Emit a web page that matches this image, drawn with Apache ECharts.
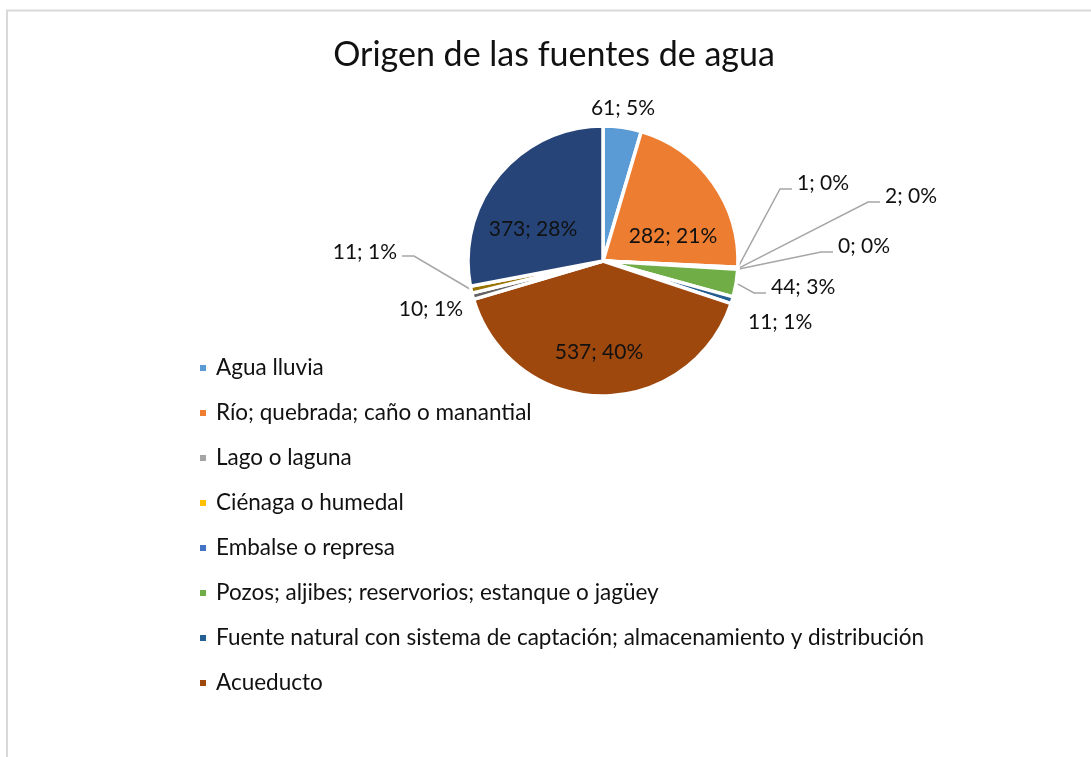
<!DOCTYPE html>
<html lang="es">
<head>
<meta charset="utf-8">
<title>Origen de las fuentes de agua</title>
<script src="https://cdn.jsdelivr.net/npm/echarts@6.0.0/dist/echarts.min.js"></script>
<style>
  html, body { margin: 0; padding: 0; background: #fff; }
  #chart { width: 1091px; height: 757px; }
</style>
</head>
<body>
<div id="chart"></div>
<script>
const categories = [
  'Agua lluvia',
  'Río; quebrada; caño o manantial',
  'Lago o laguna',
  'Ciénaga o humedal',
  'Embalse o represa',
  'Pozos; aljibes; reservorios; estanque o jagüey',
  'Fuente natural con sistema de captación; almacenamiento y distribución',
  'Acueducto'
]
// the legend in the original stops after 8 entries, these three slices have no visible name
const extraCategories = ['Serie 9', 'Serie 10', 'Serie 11']
const values = [61, 282, 1, 2, 0, 44, 11, 537, 10, 11, 373]
const colors = ['#5b9bd5', '#ed7d31', '#a5a5a5', '#ffc000', '#4472c4', '#70ad47', '#255e91', '#9e480e', '#636363', '#997300', '#264478']

// label placement per slice: [x, y, align, inside?, leader line?]
const labelSpots = [
  [623, 108, 'center', false, false],
  [673, 236, 'center', true, false],
  [797, 183, 'left', false, true],
  [885, 196, 'left', false, true],
  [838, 246, 'left', false, true],
  [771, 287, 'left', false, true],
  [748, 322, 'left', false, false],
  [599, 352, 'center', true, false],
  [463, 309, 'right', false, false],
  [397, 252, 'right', false, true],
  [533, 229, 'center', true, false]
]

const total = values.reduce((a, b) => a + b, 0)
const names = categories.concat(extraCategories)

const getOption = () => {
  return {
    animation: false,
    textStyle: { fontFamily: 'Lato' },
    graphic: [{
      type: 'rect',
      silent: true,
      shape: { x: 7, y: 10.5, width: 1300, height: 1000 },
      style: { fill: 'none', stroke: '#d9d9d9', lineWidth: 2 }
    }],
    title: {
      text: 'Origen de las fuentes de agua',
      left: 554,
      top: 37,
      padding: 0,
      textAlign: 'center',
      textStyle: { fontSize: 34, fontWeight: 'normal', color: '#111', fontFamily: 'Lato', lineHeight: 36 }
    },
    legend: {
      orient: 'vertical',
      left: 198,
      top: 356,
      padding: 0,
      itemGap: 21,
      itemWidth: 8,
      itemHeight: 8,
      icon: 'rect',
      data: categories,
      textStyle: { fontSize: 22.5, color: '#111', fontFamily: 'Lato', lineHeight: 24, padding: [0, 0, 0, 4] }
    },
    series: [{
      type: 'pie',
      center: [603, 261],
      radius: 135,
      startAngle: 90,
      clockwise: true,
      avoidLabelOverlap: false,
      itemStyle: { borderColor: '#fff', borderWidth: 3.5 },
      label: {
        show: true,
        position: 'outside',
        fontSize: 21,
        color: '#111',
        fontFamily: 'Lato',
        formatter: (p) => `${p.value}; ${Math.round(p.value / total * 100)}%`
      },
      labelLine: { show: true, lineStyle: { color: '#a6a6a6', width: 1.5 } },
      labelLayout: (params) => {
        const s = labelSpots[params.dataIndex]
        const out = { x: s[0], y: s[1], align: s[2], verticalAlign: 'middle' }
        if (s[4] && params.labelLinePoints) {
          const edge = params.labelLinePoints[0]
          const dir = s[2] === 'right' ? 1 : -1
          const end = [s[0] + dir * 5, s[1] + (dir > 0 ? 4 : 6)]
          const bend = [end[0] + dir * 12, end[1]]
          out.labelLinePoints = [edge, bend, end]
        }
        return out
      },
      data: values.map((v, i) => ({
        name: names[i],
        value: v,
        itemStyle: { color: colors[i] },
        label: { position: labelSpots[i][3] ? 'inside' : 'outside' },
        labelLine: { show: labelSpots[i][4] }
      }))
    }]
  }
}

const chart = echarts.init(document.getElementById('chart'))
chart.setOption(getOption())

window.addEventListener('resize', () => {
  chart.resize()
})
</script>
</body>
</html>
